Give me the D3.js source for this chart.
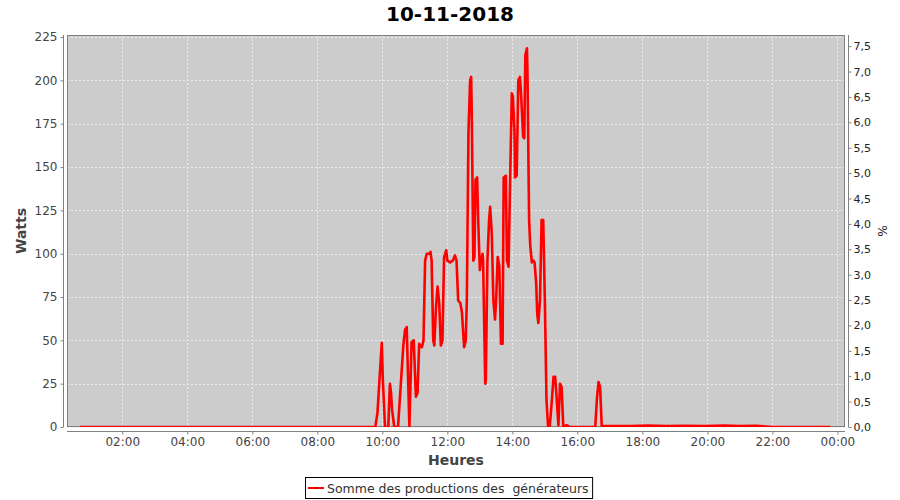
<!DOCTYPE html>
<html>
<head>
<meta charset="utf-8">
<script src="https://cdn.jsdelivr.net/npm/d3@7/dist/d3.min.js"></script>
<style>
  html, body { margin: 0; padding: 0; background: #ffffff; }
  svg { display: block; font-family: "DejaVu Sans", sans-serif; }
</style>
</head>
<body>
<svg id="chart" width="900" height="500"></svg>
<script>
// ---- data ----
const chartTitle = "10-11-2018";
const seriesName = "Somme des productions des  générateurs";
const leftAxisTitle = "Watts";
const rightAxisTitle = "%";
const xAxisTitle = "Heures";

const times = [
  "00:42","09:47","09:51","09:59","10:01","10:05","10:11","10:14","10:16","10:18",
  "10:22","10:29","10:34","10:39","10:42","10:45","10:50","10:54","10:58","11:02",
  "11:05","11:08","11:13","11:16","11:19","11:22","11:27","11:29","11:31","11:34",
  "11:36","11:39","11:42","11:45","11:48","11:51","11:54","11:58","12:00","12:05",
  "12:10","12:14","12:17","12:20","12:24","12:27","12:31","12:34","12:36","12:39",
  "12:42","12:44","12:45","12:48","12:50","12:52","12:55","12:57","13:00","13:02",
  "13:05","13:06","13:10","13:11","13:14","13:17","13:19","13:22","13:25","13:28",
  "13:30","13:33","13:36","13:39","13:42","13:44","13:48","13:50","13:53","13:56",
  "13:59","14:01","14:04","14:05","14:08","14:11","14:14","14:16","14:20","14:22",
  "14:24","14:27","14:28","14:30","14:31","14:33","14:36","14:39","14:41","14:44",
  "14:46","14:48","14:51","14:54","14:57","15:00","15:03","15:06","15:09","15:13",
  "15:16","15:19","15:22","15:25","15:28","15:31","15:34","15:40","15:46","16:33",
  "16:36","16:39","16:42","16:45","17:10","17:40","18:10","18:45","19:20","19:55",
  "20:30","21:00","21:30","22:00","22:30","23:00","23:47"
];
const watts = [
  0,0,8,48.6,27,0,0,25,20,10,
  0,0,24,48,56,57.7,0,49,50,17.5,
  19.6,48,46,50,96,100,100,101,96,50,
  47,69,81,71.5,47,50,98,102,96,95,
  96,99,96,73,71.5,66,46,50,73,170,
  200,202,183,96,98,142.5,144,119,90.6,96,
  100,96,25,27,96,119,127,112,73,62,
  73,98,92.5,48,48,144,145,96,92.5,144,
  192.5,190.6,170,144,145,200,202,192.5,167.5,166.6,
  214.6,218.5,203,145,118.5,105,95,96,95,83,
  65,60,73,119.4,119.4,73,15.6,0,0,15.6,
  29,29,15.6,1,25,23,0,1,0,0,
  15.6,26,23,0.5,0.6,0.5,0.8,0.5,0.7,0.6,
  0.8,0.6,0.7,0,0,0,0
];

const leftTicks = [0,25,50,75,100,125,150,175,200,225];
const rightTicks = [0,0.5,1,1.5,2,2.5,3,3.5,4,4.5,5,5.5,6,6.5,7,7.5];
const xStart = "00:18", xEnd = "24:14";
const leftMax = 226.2, rightMax = 7.72;

// ---- layout ----
const svg = d3.select("#chart");
const plot = { left: 67, top: 35, right: 845, bottom: 427 };
const day = new Date(2018, 10, 10);
function toDate(s) {
  const [h, m] = s.split(":").map(Number);
  return new Date(day.getTime() + (h * 60 + m) * 60000);
}

const x = d3.scaleTime().domain([toDate(xStart), toDate(xEnd)]).range([plot.left, plot.right]);
const y = d3.scaleLinear().domain([0, leftMax]).range([plot.bottom, plot.top]);
const yR = d3.scaleLinear().domain([0, rightMax]).range([plot.bottom, plot.top]);

const data = times.map((t, i) => ({ t: toDate(t), v: watts[i] }));

// title
svg.append("text").attr("x", 450).attr("y", 21).attr("text-anchor", "middle")
  .attr("font-size", 20).attr("font-weight", "bold").attr("fill", "#000").text(chartTitle);

// plot background
svg.append("rect").attr("x", plot.left).attr("y", plot.top)
  .attr("width", plot.right - plot.left).attr("height", plot.bottom - plot.top)
  .attr("fill", "#cccccc");

// grid
const xTicks = x.ticks(d3.timeHour.every(2));
svg.append("g").selectAll("line").data(xTicks).join("line")
  .attr("x1", d => Math.round(x(d)) + 0.5).attr("x2", d => Math.round(x(d)) + 0.5)
  .attr("y1", plot.top).attr("y2", plot.bottom)
  .attr("stroke", "#ececec").attr("stroke-width", 1).attr("stroke-dasharray", "2,2");
svg.append("g").selectAll("line").data(leftTicks).join("line")
  .attr("x1", plot.left).attr("x2", plot.right)
  .attr("y1", d => Math.round(y(d)) + 0.5).attr("y2", d => Math.round(y(d)) + 0.5)
  .attr("stroke", "#ececec").attr("stroke-width", 1).attr("stroke-dasharray", "2,2");

// plot outline
svg.append("rect").attr("x", plot.left + 0.5).attr("y", plot.top + 0.5)
  .attr("width", plot.right - plot.left - 1).attr("height", plot.bottom - plot.top - 1)
  .attr("fill", "none").attr("stroke", "#808080").attr("stroke-width", 1);

// clip + line
svg.append("clipPath").attr("id", "clip").append("rect")
  .attr("x", plot.left).attr("y", plot.top)
  .attr("width", plot.right - plot.left).attr("height", plot.bottom - plot.top);
const line = d3.line().x(d => x(d.t)).y(d => y(d.v));
svg.append("path").datum(data).attr("clip-path", "url(#clip)")
  .attr("d", line).attr("fill", "none").attr("stroke", "#ff0000")
  .attr("stroke-width", 2.6).attr("stroke-linejoin", "round");

// bottom axis
const gx = svg.append("g").attr("transform", `translate(0,${plot.bottom + 4.5})`)
  .call(d3.axisBottom(x).tickValues(xTicks).tickFormat(d3.timeFormat("%H:%M")).tickSize(3).tickPadding(3));
gx.select(".domain").attr("stroke", "#808080").attr("d", `M${plot.left},0H${plot.right}`);
gx.selectAll(".tick line").attr("stroke", "#808080");
gx.selectAll("text").attr("font-size", 12).attr("fill", "#444").attr("font-family", "DejaVu Sans");

// left axis
const gy = svg.append("g").attr("transform", `translate(${plot.left - 3.5},0)`)
  .call(d3.axisLeft(y).tickValues(leftTicks).tickSize(3).tickPadding(3));
gy.select(".domain").attr("stroke", "#808080").attr("d", `M0,${plot.top}V${plot.bottom}`);
gy.selectAll(".tick line").attr("stroke", "#808080");
gy.selectAll("text").attr("font-size", 12).attr("fill", "#444").attr("font-family", "DejaVu Sans");

// right axis
const fmtR = v => d3.format(".1f")(v).replace(".", ",");
const gr = svg.append("g").attr("transform", `translate(${plot.right + 3.5},0)`)
  .call(d3.axisRight(yR).tickValues(rightTicks).tickFormat(fmtR).tickSize(3).tickPadding(2));
gr.select(".domain").attr("stroke", "#808080").attr("d", `M0,${plot.top}V${plot.bottom}`);
gr.selectAll(".tick line").attr("stroke", "#808080");
gr.selectAll("text").attr("font-size", 11).attr("fill", "#222").attr("font-family", "DejaVu Sans");

// axis titles
svg.append("text").attr("transform", `translate(26,${(plot.top + plot.bottom) / 2}) rotate(-90)`)
  .attr("text-anchor", "middle").attr("font-size", 14).attr("font-weight", "bold")
  .attr("fill", "#444").text(leftAxisTitle);
svg.append("text").attr("x", (plot.left + plot.right) / 2).attr("y", 465)
  .attr("text-anchor", "middle").attr("font-size", 14).attr("font-weight", "bold")
  .attr("fill", "#444").text(xAxisTitle);
svg.append("text").attr("transform", `translate(878,${(plot.top + plot.bottom) / 2}) rotate(90)`)
  .attr("text-anchor", "middle").attr("font-size", 12)
  .attr("fill", "#222").text(rightAxisTitle);

// legend
const lg = svg.append("g");
const ltext = lg.append("text").attr("x", 327).attr("y", 492.5)
  .attr("font-size", 12.5).attr("fill", "#333")
  .attr("xml:space", "preserve").style("white-space", "pre").text(seriesName);
const tw = ltext.node().getComputedTextLength();
lg.insert("rect", "text").attr("x", 305.5).attr("y", 477.5)
  .attr("width", 327 + tw + 4 - 305.5).attr("height", 21)
  .attr("fill", "#fff").attr("stroke", "#000").attr("stroke-width", 1);
lg.append("line").attr("x1", 308).attr("x2", 324).attr("y1", 488).attr("y2", 488)
  .attr("stroke", "#ff0000").attr("stroke-width", 2);
lg.append("rect").attr("x", 315).attr("y", 487).attr("width", 2).attr("height", 2).attr("fill", "#a00");
</script>
</body>
</html>
